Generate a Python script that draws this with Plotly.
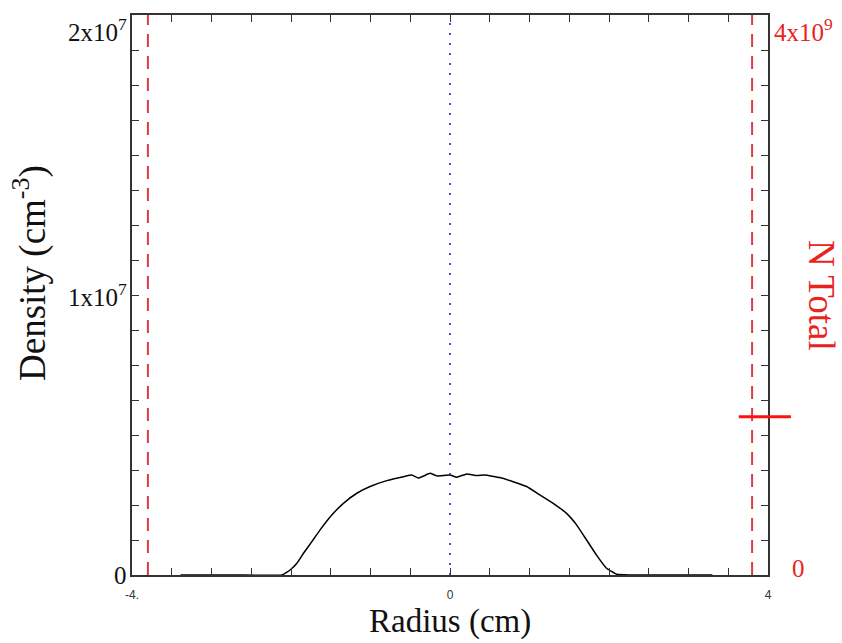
import plotly.graph_objects as go

# ---- data ----
radius = [-3.39, -2.70, -2.115, -2.011, -1.926, -1.843, -1.738, -1.634, -1.487, -1.341,
          -1.172, -1.005, -0.795, -0.587, -0.481, -0.398, -0.251, -0.167, 0.0, 0.084,
          0.21, 0.335, 0.44, 0.628, 0.795, 0.964, 1.131, 1.298, 1.466, 1.592,
          1.718, 1.843, 1.969, 2.095, 2.26, 2.80, 3.30]
density = [0.0, 0.0, 0.0, 1.79e5, 4.18e5, 7.75e5, 1.19e6, 1.61e6, 2.14e6, 2.56e6,
           2.92e6, 3.16e6, 3.37e6, 3.51e6, 3.57e6, 3.46e6, 3.63e6, 3.54e6, 3.57e6, 3.49e6,
           3.61e6, 3.55e6, 3.57e6, 3.48e6, 3.33e6, 3.16e6, 2.86e6, 2.56e6, 2.20e6, 1.79e6,
           1.25e6, 7.1e5, 2.4e5, 2.5e4, 0.0, 0.0, 0.0]
wall_positions = [-3.8, 3.8]
center_position = 0.0
n_total = 1.13e9

x_tick_vals = [-4 + 0.5 * i for i in range(17)]
x_tick_text = ["-4." if v == -4 else ("0" if v == 0 else ("4" if v == 4 else "")) for v in x_tick_vals]
y_left_ticks = [i * 1.25e6 for i in range(17)]
y_right_ticks = [i * 2.5e8 for i in range(17)]
left_label_vals = [0, 1e7, 2e7]
left_label_text = ["0", "1x10<sup>7</sup>", "2x10<sup>7</sup>"]
right_label_vals = [0, 4e9]
right_label_text = ["0", "4x10<sup>9</sup>"]

SERIF = "Liberation Serif"
AX = "#333333"
RED = "#e8241c"

fig = go.Figure()
fig.add_trace(go.Scatter(x=radius, y=density, mode="lines",
                         line=dict(color="black", width=1.5, shape="spline", smoothing=0.3),
                         showlegend=False))
for w in wall_positions:
    fig.add_trace(go.Scatter(x=[w, w], y=[0, 2e7], mode="lines",
                             line=dict(color="#dd3c44", width=2, dash="13px,9px"), showlegend=False))
fig.add_trace(go.Scatter(x=[center_position, center_position], y=[0, 2e7], mode="lines",
                         line=dict(color="#1a1acc", width=1.5, dash="2px,8px"), showlegend=False))
# invisible trace to activate right axis
fig.add_trace(go.Scatter(x=[0], y=[n_total], mode="markers", yaxis="y2",
                         marker=dict(opacity=0), showlegend=False, hoverinfo="skip"))

# N total marker on right axis (extends past the axis)
fig.add_shape(type="line", xref="paper", yref="y2", x0=0.954, x1=1.036,
              y0=n_total, y1=n_total, line=dict(color="#ff1010", width=3), layer="above")

fig.update_layout(
    width=842, height=643,
    margin=dict(l=132, r=74, t=15, b=68),
    paper_bgcolor="white", plot_bgcolor="white",
    xaxis=dict(range=[-4, 4], tickvals=x_tick_vals, ticktext=x_tick_text,
               ticks="inside", ticklen=7, tickcolor=AX, tickwidth=1.2,
               showline=True, linecolor=AX, linewidth=1.5, mirror="ticks",
               showgrid=False, zeroline=False,
               tickfont=dict(family="Liberation Sans", size=12, color="#333"),
               ticklabelstandoff=8),
    yaxis=dict(range=[0, 2e7], tickvals=y_left_ticks, showticklabels=False,
               ticks="inside", ticklen=7, tickcolor=AX, tickwidth=1.2,
               showline=True, linecolor=AX, linewidth=1.5,
               showgrid=False, zeroline=False),
    yaxis2=dict(range=[0, 4e9], overlaying="y", side="right", tickvals=y_right_ticks,
                showticklabels=False, ticks="inside", ticklen=7, tickcolor=AX, tickwidth=1.2,
                showline=True, linecolor=AX, linewidth=1.5,
                showgrid=False, zeroline=False),
)

for v, t in zip(left_label_vals, left_label_text):
    fig.add_annotation(x=0, xref="paper", y=v, yref="y", text=t, showarrow=False,
                       xanchor="right", yanchor="middle", xshift=-3,
                       yshift=(-15 if v == 2e7 else 0),
                       font=dict(family=SERIF, size=25, color="#111"))
for v, t in zip(right_label_vals, right_label_text):
    fig.add_annotation(x=1, xref="paper", y=v, yref="y2", text=t, showarrow=False,
                       xanchor="left", yanchor="middle", xshift=(22 if v == 0 else 4),
                       yshift=(-15 if v == 4e9 else 7),
                       font=dict(family=SERIF, size=25, color=RED))

fig.add_annotation(x=0.5, xref="paper", y=0, yref="paper", text="Radius (cm)",
                   showarrow=False, xanchor="center", yanchor="bottom",
                   yshift=-67, font=dict(family=SERIF, size=33, color="#111"))
fig.add_annotation(x=0, xref="paper", y=0.5, yref="paper", text="Density (cm<sup>-3</sup>)",
                   showarrow=False, textangle=-90, xanchor="center", yanchor="middle",
                   xshift=-102, yshift=22, font=dict(family=SERIF, size=37, color="#111"))
fig.add_annotation(x=1, xref="paper", y=0.5, yref="paper", text="N Total",
                   showarrow=False, textangle=90, xanchor="center", yanchor="middle",
                   xshift=54, yshift=0, font=dict(family=SERIF, size=37, color=RED))

fig.write_html("out.html")
